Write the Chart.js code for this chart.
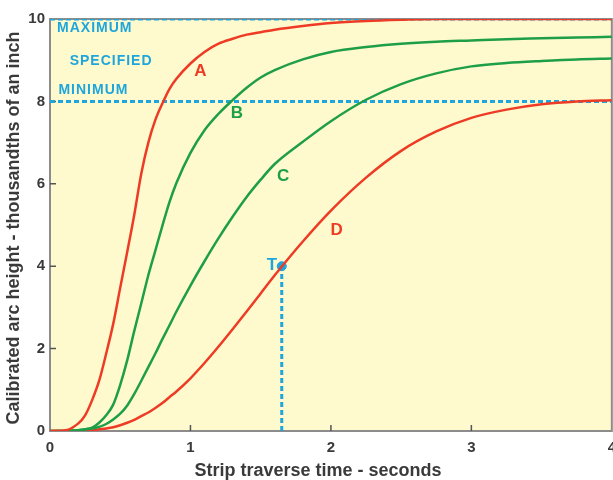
<!DOCTYPE html>
<html>
<head>
<meta charset="utf-8">
<script src="https://cdn.jsdelivr.net/npm/chart.js@4.4.1/dist/chart.umd.min.js"></script>
<style>
  html, body { margin: 0; padding: 0; background: #fff; overflow: hidden; }
  #wrap { width: 613px; height: 480px; overflow: hidden; }
  canvas { display: block; }
</style>
</head>
<body>
<div id="wrap"><canvas id="arc" width="624" height="480"></canvas></div>
<script>
// Strip traverse time (s) vs calibrated arc height (thousandths of an inch)
var times  = [0, 0.1, 0.2, 0.25, 0.3, 0.35, 0.4, 0.45, 0.5, 0.55, 0.6, 0.65, 0.7, 0.75, 0.8, 0.85, 0.9,
              1.0, 1.1, 1.2, 1.3, 1.4, 1.5, 1.6, 1.8, 2.0, 2.25, 2.5, 2.75, 3.0, 3.25, 3.5, 3.75, 4.0];
var curveA = [0, 0.01, 0.18, 0.38, 0.75, 1.22, 1.88, 2.6, 3.48, 4.35, 5.25, 6.25, 7.0, 7.55, 7.95, 8.3, 8.55,
              8.92, 9.2, 9.4, 9.52, 9.62, 9.68, 9.74, 9.83, 9.9, 9.95, 9.98, 10, 10, 10, 10, 10, 10];
var curveB = [0, 0, 0.02, 0.04, 0.08, 0.2, 0.38, 0.64, 1.12, 1.72, 2.43, 3.1, 3.78, 4.38, 4.98, 5.55, 6.02,
              6.75, 7.3, 7.7, 8.03, 8.33, 8.58, 8.76, 9.02, 9.2, 9.32, 9.4, 9.45, 9.48, 9.51, 9.53, 9.55, 9.57];
var curveC = [0, 0, 0.02, 0.04, 0.06, 0.1, 0.17, 0.28, 0.42, 0.62, 0.9, 1.22, 1.55, 1.88, 2.23, 2.56, 2.9,
              3.53, 4.12, 4.68, 5.2, 5.68, 6.1, 6.48, 7.02, 7.52, 8.04, 8.42, 8.68, 8.85, 8.93, 8.98, 9.02, 9.04];
var curveD = [0, 0, 0, 0.01, 0.02, 0.04, 0.06, 0.09, 0.14, 0.2, 0.27, 0.36, 0.45, 0.56, 0.68, 0.82, 0.96,
              1.28, 1.65, 2.05, 2.47, 2.9, 3.34, 3.78, 4.6, 5.35, 6.15, 6.8, 7.27, 7.6, 7.8, 7.93, 8.0, 8.03];

var limitRange = [0, 4];
var maxHeight  = 10;
var minHeight  = 8;
var testPoint  = { time: 1.65, height: 4 };

var xTicks = [0, 1, 2, 3, 4];
var yTicks = [0, 2, 4, 6, 8, 10];

var RED   = '#ee3b25';
var GREEN = '#1f9e48';
var CYAN  = '#1ea6dc';
var INK   = '#3a3a3a';
var PAPER = '#fefacd';
var FONT  = "'Liberation Sans', Arial, sans-serif";

Chart.defaults.font.family = FONT;
Chart.defaults.font.weight = 'bold';
Chart.defaults.color = INK;

function pts(ys) {
  return times.map(function (t, i) { return { x: t, y: ys[i] }; });
}
function curve(ys, color) {
  return {
    data: pts(ys), borderColor: color, borderWidth: 2.5, pointRadius: 0,
    cubicInterpolationMode: 'monotone', fill: false
  };
}
function dashed(data) {
  return {
    data: data, borderColor: CYAN, borderWidth: 3, borderDash: [5, 3],
    pointRadius: 0, fill: false
  };
}

// text placed in data coordinates
var notes = [
  { text: 'MAXIMUM',   x: 0.05, y: 9.78, color: CYAN,  size: 14, align: 'left', sp: '1px' },
  { text: 'SPECIFIED', x: 0.14, y: 8.98, color: CYAN,  size: 14, align: 'left', sp: '1px' },
  { text: 'MINIMUM',   x: 0.06, y: 8.27, color: CYAN,  size: 14, align: 'left', sp: '1px' },
  { text: 'A',         x: 1.07, y: 8.72, color: RED,   size: 17, align: 'center', sp: '0px' },
  { text: 'B',         x: 1.33, y: 7.70, color: GREEN, size: 17, align: 'center', sp: '0px' },
  { text: 'C',         x: 1.66, y: 6.18, color: GREEN, size: 17, align: 'center', sp: '0px' },
  { text: 'D',         x: 2.04, y: 4.87, color: RED,   size: 17, align: 'center', sp: '0px' },
  { text: 'T',         x: 1.58, y: 4.03, color: CYAN,  size: 17, align: 'center', sp: '0px' }
];

var paper = {
  id: 'paper',
  beforeDraw: function (chart) {
    var a = chart.chartArea, ctx = chart.ctx;
    ctx.save();
    ctx.fillStyle = PAPER;
    ctx.fillRect(a.left, a.top, a.right - a.left, a.bottom - a.top);
    ctx.restore();
  },
  beforeDatasetsDraw: function (chart) {
    var a = chart.chartArea, ctx = chart.ctx;
    var xs = chart.scales.x, ys = chart.scales.y;
    ctx.save();
    ctx.strokeStyle = '#8c8c8c';
    ctx.lineWidth = 2;
    ctx.strokeRect(a.left, a.top, a.right - a.left, a.bottom - a.top);
    ctx.strokeStyle = '#555';
    ctx.lineWidth = 1.5;
    ctx.beginPath();
    xTicks.slice(1, -1).forEach(function (v) {
      var px = xs.getPixelForValue(v);
      ctx.moveTo(px, a.bottom); ctx.lineTo(px, a.bottom - 6);
    });
    yTicks.slice(1, -1).forEach(function (v) {
      var py = ys.getPixelForValue(v);
      ctx.moveTo(a.left, py); ctx.lineTo(a.left + 6, py);
    });
    ctx.stroke();
    ctx.restore();
  },
  afterDatasetsDraw: function (chart) {
    var ctx = chart.ctx, xs = chart.scales.x, ys = chart.scales.y;
    ctx.save();
    ctx.textBaseline = 'middle';
    notes.forEach(function (n) {
      ctx.font = 'bold ' + n.size + 'px ' + FONT;
      ctx.letterSpacing = n.sp;
      ctx.fillStyle = n.color;
      ctx.textAlign = n.align;
      ctx.fillText(n.text, xs.getPixelForValue(n.x), ys.getPixelForValue(n.y));
    });
    // axis titles
    ctx.letterSpacing = '0px';
    ctx.fillStyle = INK;
    ctx.font = 'bold 18px ' + FONT;
    ctx.textAlign = 'center';
    ctx.fillText('Strip traverse time - seconds', 318, 471);
    ctx.translate(14, 228);
    ctx.rotate(-Math.PI / 2);
    ctx.fillText('Calibrated arc height - thousandths of an inch', 0, 0);
    ctx.restore();
  }
};

new Chart(document.getElementById('arc').getContext('2d'), {
  type: 'line',
  data: {
    datasets: [
      curve(curveA, RED),
      curve(curveB, GREEN),
      curve(curveC, GREEN),
      curve(curveD, RED),
      dashed(limitRange.map(function (t) { return { x: t, y: maxHeight }; })),
      dashed(limitRange.map(function (t) { return { x: t, y: minHeight }; })),
      dashed([{ x: testPoint.time, y: 0 }, { x: testPoint.time, y: testPoint.height }]),
      {
        data: [{ x: testPoint.time, y: testPoint.height }], showLine: false,
        pointRadius: 4.5, pointBackgroundColor: CYAN, pointBorderColor: CYAN
      }
    ]
  },
  options: {
    responsive: false,
    animation: false,
    layout: { padding: { top: 19, right: 1, left: 0, bottom: 0 } },
    plugins: { legend: { display: false }, tooltip: { enabled: false } },
    scales: {
      x: {
        type: 'linear', min: 0, max: 4,
        afterBuildTicks: function (s) { s.ticks = xTicks.map(function (v) { return { value: v }; }); },
        afterFit: function (s) { s.height = 49; },
        grid: { display: false, drawTicks: false },
        border: { display: false },
        ticks: { color: INK, padding: 8, font: { size: 15, weight: 'bold' } }
      },
      y: {
        type: 'linear', min: 0, max: 10,
        afterBuildTicks: function (s) { s.ticks = yTicks.map(function (v) { return { value: v }; }); },
        afterFit: function (s) { s.width = 50; },
        grid: { display: false, drawTicks: false },
        border: { display: false },
        ticks: { color: INK, padding: 5, font: { size: 15, weight: 'bold' } }
      }
    }
  },
  plugins: [paper]
});
</script>
</body>
</html>
